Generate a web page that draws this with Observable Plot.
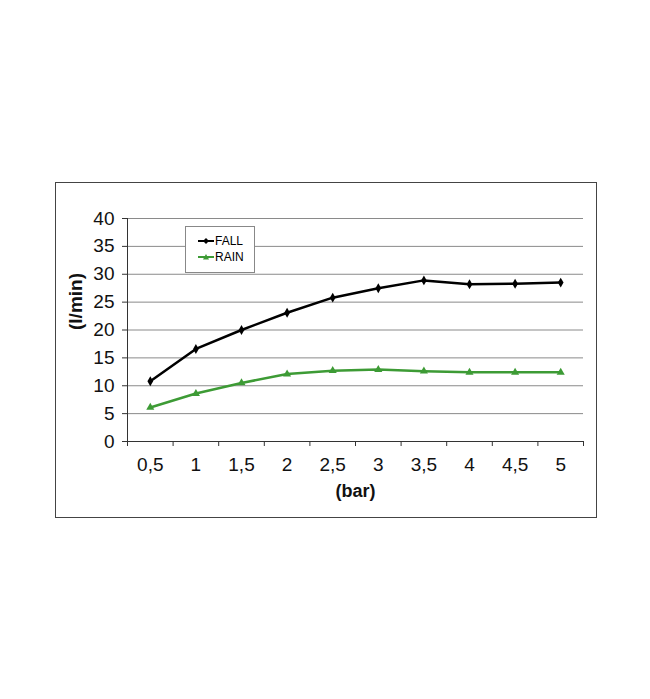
<!DOCTYPE html>
<html>
<head>
<meta charset="utf-8">
<script src="https://cdn.jsdelivr.net/npm/d3@7"></script>
<script src="https://cdn.jsdelivr.net/npm/@observablehq/plot@0.6"></script>
<style>
  html, body { margin: 0; padding: 0; background: #fff; }
  #wrap { position: relative; width: 650px; height: 699px; font-family: "Liberation Sans", Arial, sans-serif; }
  #frame { position: absolute; left: 55px; top: 182px; width: 540px; height: 334px; border: 1px solid #444; }
  #chart { position: absolute; left: 0; top: 0; }
  #legend { position: absolute; left: 185px; top: 226px; width: 68px; height: 45px; border: 1px solid #888; background: #fff; font-size: 12px; }
  #legend .row { position: absolute; left: 12px; display: flex; align-items: center; }
  #legend svg { margin-right: 1px; }
</style>
</head>
<body>
<div id="wrap">
  <div id="frame"></div>
  <div id="chart"></div>
  <div id="legend">
    <div class="row" style="top:7px"><svg width="16" height="8"><line x1="0" y1="4" x2="16" y2="4" stroke="#000" stroke-width="2"/><path d="M8,1 L11,4 L8,7 L5,4Z" fill="#000"/></svg><span>FALL</span></div>
    <div class="row" style="top:23px"><svg width="16" height="8"><line x1="0" y1="4" x2="16" y2="4" stroke="#3d9b35" stroke-width="2"/><path d="M8,1 L11,6.5 L5,6.5Z" fill="#3d9b35"/></svg><span>RAIN</span></div>
  </div>
</div>
<script>
const categories = [0.5, 1, 1.5, 2, 2.5, 3, 3.5, 4, 4.5, 5];
const fall = [10.8, 16.6, 20.0, 23.1, 25.8, 27.5, 28.9, 28.2, 28.3, 28.5];
const rain = [6.1, 8.6, 10.5, 12.1, 12.7, 12.9, 12.6, 12.4, 12.4, 12.4];
const yTicks = [0, 5, 10, 15, 20, 25, 30, 35, 40];
const yLabel = "(l/min)";
const xLabel = "(bar)";
const seriesNames = ["FALL", "RAIN"];

const half = (categories[1] - categories[0]) / 2;
const boundaries = [categories[0] - half, ...categories.map(c => c + half)];
const fallData = categories.map((x, i) => ({x, y: fall[i]}));
const rainData = categories.map((x, i) => ({x, y: rain[i]}));
const fmt = d => String(d).replace(".", ",");
const font = "'Liberation Sans', Arial, sans-serif";

const chart = Plot.plot({
  width: 650,
  height: 699,
  marginLeft: 127,
  marginRight: 67,
  marginTop: 218,
  marginBottom: 258,
  style: {fontFamily: font, background: "transparent", overflow: "visible"},
  x: {type: "linear", domain: [boundaries[0], boundaries[boundaries.length - 1]]},
  y: {domain: [yTicks[0], yTicks[yTicks.length - 1]]},
  marks: [
    Plot.ruleY(yTicks.slice(1), {stroke: "#8a8a8a", strokeWidth: 1}),
    Plot.ruleY([yTicks[0]], {stroke: "#333"}),
    Plot.ruleX([boundaries[0]], {stroke: "#333"}),
    Plot.axisX({ticks: boundaries, tickSize: 5, tickFormat: () => "", stroke: "#333", label: null}),
    Plot.axisX({ticks: categories, tickSize: 0, tickPadding: 16, tickFormat: fmt, fontSize: 19, label: null, fill: "#111"}),
    Plot.axisY({ticks: yTicks, tickSize: 5, tickPadding: 8, fontSize: 19, label: null, stroke: "#333", fill: "#111"}),
    Plot.text([yLabel], {frameAnchor: "left", dx: -52, rotate: -90, fontSize: 19, fontWeight: "bold", fill: "#111"}),
    Plot.text([xLabel], {frameAnchor: "bottom", dy: 55, fontSize: 18, fontWeight: "bold", fill: "#111"}),
    Plot.line(fallData, {x: "x", y: "y", stroke: "#000", strokeWidth: 2.5}),
    Plot.dot(fallData, {x: "x", y: "y", symbol: "diamond", r: 3, fill: "#000"}),
    Plot.line(rainData, {x: "x", y: "y", stroke: "#3d9b35", strokeWidth: 2.5}),
    Plot.dot(rainData, {x: "x", y: "y", symbol: "triangle", r: 3, fill: "#3d9b35"})
  ]
});
document.getElementById("chart").appendChild(chart);
</script>
</body>
</html>
